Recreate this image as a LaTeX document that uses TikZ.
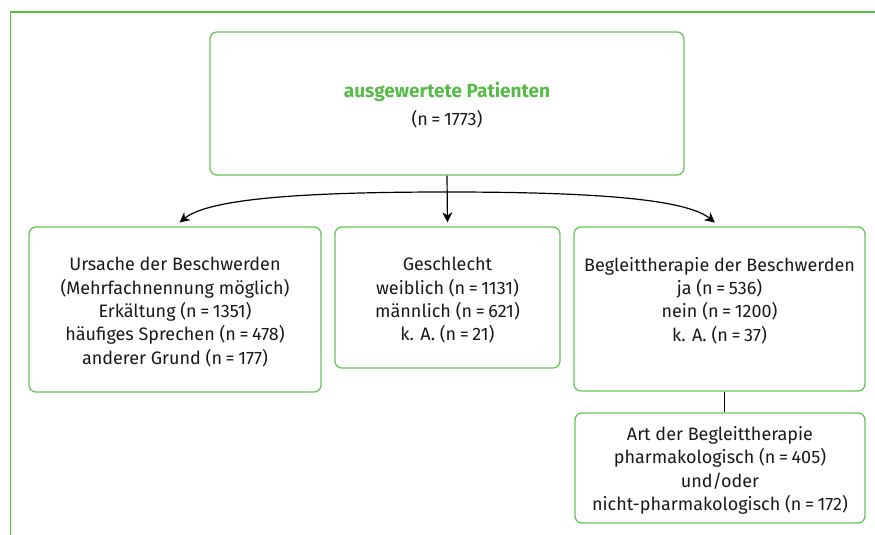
\documentclass[tikz,border=0pt]{standalone}
\usepackage{fontspec}
\setmainfont{Fira Sans}
\usetikzlibrary{arrows.meta}
\definecolor{framegreen}{RGB}{84,192,66}
\definecolor{boxgreen}{RGB}{104,196,92}
\definecolor{titlegreen}{RGB}{88,186,72}
\tikzset{
  box/.style={draw=boxgreen, line width=1.3pt, rounded corners=7pt, inner sep=0pt},
  txt/.style={align=center, inner sep=0pt, font=\fontsize{18}{23.3}\selectfont, text=black!90},
  conn/.style={line width=1.2pt, black},
  arr/.style={conn, -{Stealth[length=10pt, width=10pt, inset=3pt]}}
}
\newcommand{\nn}[1]{(n\hspace{0.2em}=\hspace{0.2em}#1)}
\begin{document}
\begin{tikzpicture}[x=1pt, y=-1pt]
\useasboundingbox (0,0) rectangle (875,535);
% outer frame
\draw[framegreen, line width=1.5pt] (10.5,535) -- (10.5,12) -- (875,12);
% boxes
\node[box, minimum width=474pt, minimum height=143pt] (top) at (447,103.5) {};
\node[box, minimum width=292pt, minimum height=165pt] (left) at (175,309.5) {};
\node[box, minimum width=225pt, minimum height=141pt] (mid) at (447.5,297.5) {};
\node[box, minimum width=291pt, minimum height=164pt] (right) at (719.5,309) {};
\node[box, minimum width=290pt, minimum height=110pt] (bot) at (720,468) {};
% texts
\node[txt, font=\fontsize{18}{28.5}\selectfont] (ttop) at (447,105) {\textcolor{titlegreen}{\fontsize{19}{28.5}\selectfont\textbf{ausgewertete Patienten}}\\\nn{1773}};
\node[txt] (tleft) at (175,312) {Ursache der Beschwerden\\(Mehrfachnennung möglich)\\Erkältung \nn{1351}\\häufiges Sprechen \nn{478}\\anderer Grund \nn{177}};
\node[txt] (tmid) at (447.5,300.5) {Geschlecht\\weiblich \nn{1131}\\männlich \nn{621}\\k. A. \nn{21}};
\node[txt] (tright) at (719.5,300.5) {Begleittherapie der Beschwerden\\ja \nn{536}\\nein \nn{1200}\\k. A. \nn{37}};
\node[txt] (tbot) at (720,470.5) {Art der Begleittherapie\\pharmakologisch \nn{405}\\und/oder\\nicht-pharmakologisch \nn{172}};
% connectors
\coordinate (apex) at (447,192);
\draw[arr, shorten >=4pt] (top.south) -- (mid.north);
\draw[arr, shorten >=6pt] (apex) .. controls (300,192) and (208,199) .. (left.north);
\draw[arr, shorten >=6pt] (apex) .. controls (594,192) and (686,199) .. (right.north);
\draw[conn, line width=1pt] ([xshift=4.5pt]right.south) -- ([xshift=4pt]bot.north);
\end{tikzpicture}
\end{document}
